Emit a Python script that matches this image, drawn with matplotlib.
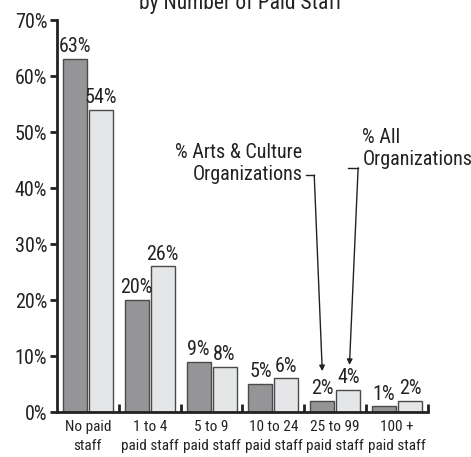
import numpy as np
import matplotlib
matplotlib.use("Agg")
import matplotlib.pyplot as plt
from matplotlib import font_manager

# Dane
kategorie = ["No paid\nstaff", "1 to 4\npaid staff", "5 to 9\npaid staff",
             "10 to 24\npaid staff", "25 to 99\npaid staff", "100 +\npaid staff"]
arts = [63, 20, 9, 5, 2, 1]
wszystkie = [54, 26, 8, 6, 4, 2]
y_ticks = [0, 10, 20, 30, 40, 50, 60, 70]

dostepne = {f.name for f in font_manager.fontManager.ttflist}
rodzina = "Liberation Sans"
for kand in ("Liberation Sans Narrow", "Roboto Condensed", "Arial Narrow"):
    if kand in dostepne:
        rodzina = kand
        break
plt.rcParams["font.family"] = [rodzina, "DejaVu Sans"]
waska = rodzina != "Liberation Sans"
fs_duzy = 14.5 if waska else 12.5
fs_kat = 11 if waska else 9.5

kolor_osi = "#222222"
ciemny = "#959597"
jasny = "#e5e6e8"
krawedz = "#4a4a4a"

fig = plt.figure(figsize=(4.71, 4.57), dpi=100)
ax = fig.add_axes([57 / 471, 45 / 457, 371 / 471, 392 / 457])

x = np.arange(len(kategorie))
szer = 0.39
przes = 0.21
b1 = ax.bar(x - przes, arts, szer, color=ciemny, edgecolor=krawedz, linewidth=1.0)
b2 = ax.bar(x + przes, wszystkie, szer, color=jasny, edgecolor=krawedz, linewidth=1.0)

for slupki, wartosci in ((b1, arts), (b2, wszystkie)):
    for s, v in zip(slupki, wartosci):
        ax.annotate(f"{v}%", (s.get_x() + s.get_width() / 2, v),
                    xytext=(0, 2), textcoords="offset points",
                    ha="center", va="bottom", fontsize=fs_duzy, color="#222222")

ax.set_xlim(-0.5, len(kategorie) - 0.5)
ax.set_ylim(0, 70)
ax.set_yticks(y_ticks)
ax.set_yticklabels([f"{t}%" for t in y_ticks], fontsize=fs_duzy, color="#222222")
ax.tick_params(axis="y", direction="out", length=5, width=2, color=kolor_osi, pad=2)

ax.set_xticks(x)
ax.set_xticklabels(kategorie, fontsize=fs_kat, color="#222222", linespacing=1.45)
ax.tick_params(axis="x", which="major", length=0, pad=6)
ax.set_xticks(np.arange(len(kategorie)) + 0.5, minor=True)
ax.tick_params(axis="x", which="minor", direction="in", length=6, width=2, color=kolor_osi)

for s in ("top", "right"):
    ax.spines[s].set_visible(False)
for s in ("left", "bottom"):
    ax.spines[s].set_linewidth(2)
    ax.spines[s].set_color(kolor_osi)

# Opisy serii ze strzałkami
ax.text(3.47, 44.4, "% Arts & Culture\nOrganizations", ha="right", va="center",
        multialignment="right", fontsize=fs_duzy, color="#222222", linespacing=1.2)
ax.plot([3.53, 3.66], [42.3, 42.3], color=kolor_osi, lw=1)
ax.annotate("", xy=(4 - przes + 0.0, arts[4] + 5.3), xytext=(3.66, 42.3),
            arrowprops=dict(arrowstyle="-|>", color=kolor_osi, lw=1,
                            mutation_scale=8, shrinkA=0, shrinkB=0))

ax.text(4.44, 47.0, "% All\nOrganizations", ha="left", va="center",
        fontsize=fs_duzy, color="#222222", linespacing=1.2)
ax.plot([4.21, 4.37], [43.6, 43.6], color=kolor_osi, lw=1)
ax.annotate("", xy=(4 + przes + 0.02, wszystkie[4] + 4.4), xytext=(4.37, 43.6),
            arrowprops=dict(arrowstyle="-|>", color=kolor_osi, lw=1,
                            mutation_scale=8, shrinkA=0, shrinkB=0))

# Tytuł ucięty u góry
fig.text(241 / 471, 1 - 9 / 457, "by Number of Paid Staff", ha="center",
         va="baseline", fontsize=fs_duzy + 1, color="#222222")

fig.savefig("out.png", dpi=100)
